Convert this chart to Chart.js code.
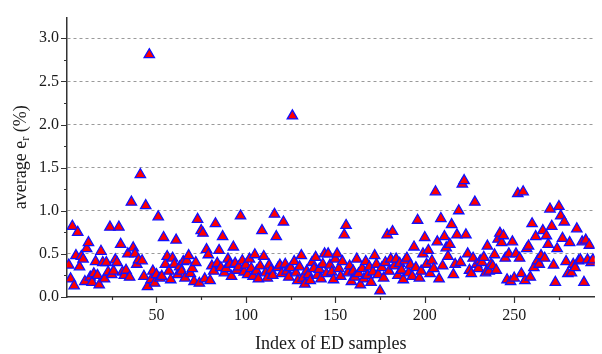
<!DOCTYPE html>
<html>
<head>
<meta charset="utf-8">
<script src="https://cdn.jsdelivr.net/npm/chart.js@4.4.0/dist/chart.umd.min.js"></script>
<style>
  html, body { margin: 0; padding: 0; background: #fff; }
  #wrap { width: 602px; height: 354px; }
</style>
</head>
<body>
<div id="wrap"><canvas id="chart" width="602" height="354"></canvas></div>
<script>
// average relative error (%) per ED sample
const errorValues = [
  0.37, 0.21, 0.82, 0.13, 0.48, 0.75, 0.35, 0.47, 0.44, 0.18,
  0.56, 0.63, 0.23, 0.17, 0.27, 0.41, 0.25, 0.14, 0.53, 0.40,
  0.21, 0.40, 0.29, 0.81, 0.26, 0.30, 0.43, 0.40, 0.81, 0.61,
  0.29, 0.25, 0.31, 0.50, 0.23, 1.10, 0.57, 0.50, 0.38, 0.43,
  1.42, 0.42, 0.24, 1.06, 0.12, 2.81, 0.20, 0.30, 0.16, 0.26,
  0.93, 0.22, 0.24, 0.69, 0.38, 0.47, 0.30, 0.20, 0.45, 0.38,
  0.66, 0.26, 0.35, 0.30, 0.41, 0.22, 0.42, 0.48, 0.27, 0.33,
  0.18, 0.40, 0.90, 0.16, 0.77, 0.74, 0.21, 0.55, 0.49, 0.19,
  0.36, 0.30, 0.85, 0.39, 0.54, 0.34, 0.70, 0.28, 0.33, 0.44,
  0.38, 0.24, 0.58, 0.39, 0.31, 0.35, 0.94, 0.42, 0.29, 0.37,
  0.26, 0.44, 0.33, 0.24, 0.49, 0.30, 0.21, 0.36, 0.77, 0.47,
  0.28, 0.22, 0.37, 0.31, 0.25, 0.96, 0.70, 0.34, 0.37, 0.27,
  0.87, 0.38, 0.30, 0.23, 0.34, 2.10, 0.41, 0.28, 0.19, 0.35,
  0.48, 0.22, 0.15, 0.30, 0.26, 0.19, 0.40, 0.33, 0.46, 0.25,
  0.32, 0.21, 0.38, 0.50, 0.27, 0.50, 0.37, 0.29, 0.20, 0.44,
  0.50, 0.33, 0.24, 0.41, 0.72, 0.83, 0.28, 0.36, 0.18, 0.30,
  0.23, 0.44, 0.27, 0.14, 0.33, 0.21, 0.41, 0.25, 0.35, 0.17,
  0.29, 0.48, 0.38, 0.26, 0.07, 0.34, 0.22, 0.40, 0.72, 0.30,
  0.44, 0.76, 0.36, 0.44, 0.25, 0.39, 0.31, 0.20, 0.42, 0.45,
  0.28, 0.37, 0.24, 0.58, 0.34, 0.89, 0.22, 0.30, 0.50, 0.69,
  0.38, 0.54, 0.27, 0.42, 0.33, 1.22, 0.64, 0.21, 0.91, 0.36,
  0.70, 0.57, 0.47, 0.61, 0.84, 0.26, 0.38, 0.72, 1.00, 0.40,
  1.31, 1.35, 0.72, 0.50, 0.31, 0.27, 0.45, 1.10, 0.38, 0.33,
  0.42, 0.40, 0.46, 0.28, 0.59, 0.30, 0.38, 0.36, 0.49, 0.31,
  0.67, 0.74, 0.63, 0.71, 0.45, 0.20, 0.50, 0.18, 0.64, 0.22,
  0.50, 1.20, 0.45, 0.27, 1.22, 0.19, 0.56, 0.59, 0.23, 0.85,
  0.34, 0.70, 0.42, 0.38, 0.48, 0.77, 0.45, 0.71, 0.61, 1.02,
  0.82, 0.37, 0.17, 0.56, 1.05, 0.94, 0.68, 0.87, 0.41, 0.27,
  0.63, 0.28, 0.38, 0.34, 0.79, 0.42, 0.43, 0.64, 0.17, 0.66,
  0.43, 0.60, 0.40, 0.43
];

// axis ticks
const xTickLabels = [50, 100, 150, 200, 250];
const xMinorTicks = [25, 75, 125, 175, 225, 275];
const yTickLabels = [0, 0.5, 1.0, 1.5, 2.0, 2.5, 3.0];
const yMinorTicks = [0.25, 0.75, 1.25, 1.75, 2.25, 2.75];

const fontFamily = "'Liberation Serif', 'Times New Roman', serif";
const textColor = "#1a1a1a";
const axisColor = "#333";

// sample index on x, error on y
const points = errorValues.map((v, i) => ({ x: i + 1, y: v }));

// draws outward major/minor tick marks and the two axis titles
const axisDecor = {
  id: "axisDecor",
  afterDraw: (chart) => {
    const ctx = chart.ctx;
    const xs = chart.scales.x;
    const ys = chart.scales.y;
    const area = chart.chartArea;
    ctx.save();
    ctx.strokeStyle = axisColor;
    ctx.lineWidth = 1.2;
    ctx.beginPath();
    xTickLabels.forEach((v) => {
      const px = Math.round(xs.getPixelForValue(v)) + 0.5;
      ctx.moveTo(px, area.bottom);
      ctx.lineTo(px, area.bottom + 6);
    });
    xMinorTicks.forEach((v) => {
      const px = Math.round(xs.getPixelForValue(v)) + 0.5;
      ctx.moveTo(px, area.bottom);
      ctx.lineTo(px, area.bottom + 3);
    });
    yTickLabels.forEach((v) => {
      const py = Math.round(ys.getPixelForValue(v)) + 0.5;
      ctx.moveTo(area.left, py);
      ctx.lineTo(area.left - 6, py);
    });
    yMinorTicks.forEach((v) => {
      const py = Math.round(ys.getPixelForValue(v)) + 0.5;
      ctx.moveTo(area.left, py);
      ctx.lineTo(area.left - 3, py);
    });
    ctx.stroke();

    ctx.fillStyle = textColor;
    ctx.textBaseline = "middle";
    ctx.textAlign = "center";
    ctx.font = "18px " + fontFamily;
    ctx.fillText("Index of ED samples", (area.left + area.right) / 2, 344);

    // y title: average e_r (%)
    const mainFont = "18px " + fontFamily;
    const subFont = "12px " + fontFamily;
    ctx.font = mainFont;
    const p1 = "average e";
    const p3 = " (%)";
    const w1 = ctx.measureText(p1).width;
    const w3 = ctx.measureText(p3).width;
    ctx.font = subFont;
    const w2 = ctx.measureText("r").width;
    const total = w1 + w2 + w3;
    ctx.translate(21, (area.top + area.bottom) / 2);
    ctx.rotate(-Math.PI / 2);
    ctx.textAlign = "left";
    let cx = -total / 2;
    ctx.font = mainFont;
    ctx.fillText(p1, cx, 0);
    cx += w1;
    ctx.font = subFont;
    ctx.fillText("r", cx, 5);
    cx += w2;
    ctx.font = mainFont;
    ctx.fillText(p3, cx, 0);
    ctx.restore();
  },
};

new Chart(document.getElementById("chart").getContext("2d"), {
  type: "scatter",
  data: {
    datasets: [
      {
        label: "average error",
        data: points,
        pointStyle: "triangle",
        pointRadius: 6,
        pointHoverRadius: 6,
        backgroundColor: "#ff0000",
        borderColor: "#1010ff",
        borderWidth: 1.3,
      },
    ],
  },
  options: {
    responsive: false,
    animation: false,
    layout: { padding: { top: 15, right: 4, left: 0, bottom: 0 } },
    plugins: {
      legend: { display: false },
      tooltip: { enabled: false },
    },
    scales: {
      x: {
        type: "linear",
        min: 0,
        max: 295,
        afterFit: (s) => {
          s.height = 57;
        },
        ticks: {
          stepSize: 25,
          includeBounds: false,
          autoSkip: false,
          maxRotation: 0,
          padding: 9,
          color: textColor,
          font: { family: fontFamily, size: 16 },
          callback: (v) => (xTickLabels.includes(v) ? String(v) : ""),
        },
        grid: { display: false, drawTicks: false },
        border: { color: axisColor, width: 1.5 },
      },
      y: {
        min: 0,
        max: 3.24,
        afterFit: (s) => {
          s.width = 67;
        },
        ticks: {
          stepSize: 0.5,
          includeBounds: false,
          padding: 8,
          color: textColor,
          font: { family: fontFamily, size: 16 },
          callback: (v) => v.toFixed(1),
        },
        grid: {
          drawTicks: false,
          lineWidth: 1,
          color: (c) => (c.tick && c.tick.value === 0 ? "rgba(0,0,0,0)" : "#9a9a9a"),
        },
        border: { color: axisColor, width: 1.5, dash: [3, 3] },
      },
    },
  },
  plugins: [axisDecor],
});
</script>
</body>
</html>
